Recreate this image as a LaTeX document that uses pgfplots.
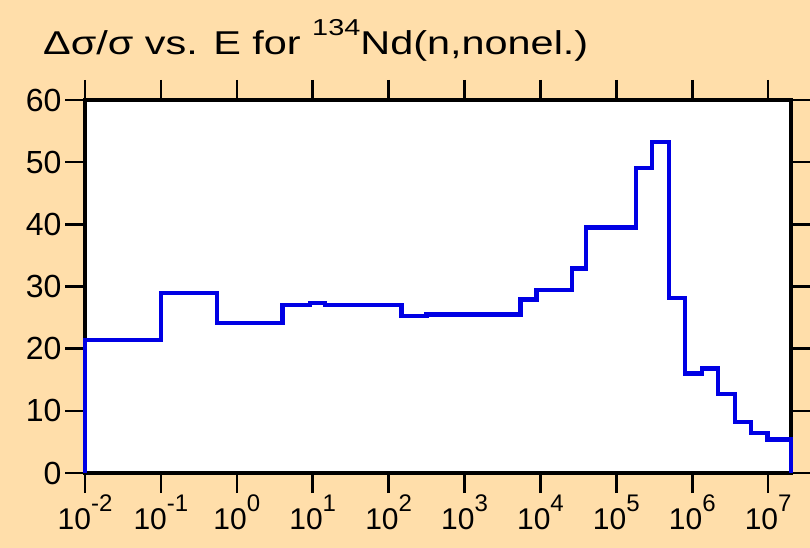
\documentclass[border=0pt]{standalone}
\usepackage{fontspec}
\setmainfont{Liberation Sans}
\usepackage{graphicx}
\usepackage{pgfplots}
\pgfplotsset{compat=1.18}
\definecolor{bg}{RGB}{255,222,170}
\definecolor{ln}{RGB}{0,0,228}
\newcommand{\E}[1]{10\raisebox{18pt}{\fontsize{24}{24}\selectfont #1}}
\begin{document}
\begin{tikzpicture}[x=1pt,y=1pt]
\fill[bg] (0,0) rectangle (810,548);
\node[anchor=base west, inner sep=0, font=\fontsize{33}{38}\selectfont] at (43,493) {\scalebox{1.255}[1]{Δσ/σ vs. E for \raisebox{19pt}{\fontsize{23}{23}\selectfont 134}Nd(n,nonel.)}};
\begin{axis}[at={(85pt,75pt)}, anchor=south west, scale only axis,
  width=706pt, height=373pt,
  xmode=log, xmin=1e-2, xmax=2e7, ymin=0, ymax=60,
  axis background/.style={fill=white},
  axis line style={line width=4pt, black},
  tick style={line width=2.5pt, black},
  major tick length=20pt, tick align=outside,
  xminorticks=false, yminorticks=false,
  xtick={1e-2,1e-1,1,10,100,1000,1e4,1e5,1e6,1e7},
  xticklabels={\E{-2},\E{-1},\E{0},\E{1},\E{2},\E{3},\E{4},\E{5},\E{6},\E{7}},
  ytick={0,10,20,30,40,50,60},
  xticklabel style={font=\fontsize{30}{30}\selectfont, inner sep=2pt},
  yticklabel style={font=\fontsize{32}{32}\selectfont},
  /pgf/number format/assume math mode=true,
  clip=false, axis on top=false,
]
\addplot[const plot, color=ln, line width=4.2pt, line join=miter] coordinates {
(0.01,0) (0.01,21.4) (0.1,28.9) (0.55,24.1) (4.0,27.0) (9.1,27.4) (14.4,27.0)
(148,25.3) (316,25.5) (5460,27.9) (8900,29.4) (26100,32.9) (4.0e4,39.5)
(1.8e5,49.1) (2.95e5,53.3) (4.9e5,28.1) (8.1e5,16.0) (1.34e6,16.8)
(2.18e6,12.7) (3.68e6,8.15) (5.97e6,6.4) (9.8e6,5.4) (2e7,5.4) (2e7,0)
};
\end{axis}
\pgfresetboundingbox
\useasboundingbox (0,0) rectangle (810,548);
\end{tikzpicture}
\end{document}
